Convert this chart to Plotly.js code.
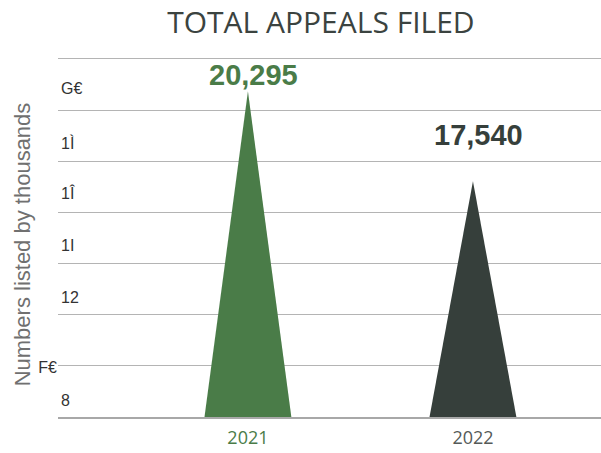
<!DOCTYPE html>
<html>
<head>
<meta charset="utf-8">
<script src="https://cdn.plot.ly/plotly-3.0.1.min.js"></script>
<style>
  body { margin: 0; background: #fff; }
  #grafica { width: 601px; height: 453px; }
</style>
</head>
<body>
<div id="grafica"></div>
<script>
  var years = ['2021', '2022'];
  var appeals = [20295, 17540];
  var valueLabels = ['20,295', '17,540'];
  var colors = ['#4a7c48', '#363f3b'];

  // axis scale (thousands), gridlines every step
  var yMin = 10300, yStep = 1570, yLines = 7;
  var yMax = yMin + yStep * yLines;

  // the odd tick labels of the original, with where they sit
  var tickText = ['G€', '1Ì', '1Î', '1I', '12', '8'];
  var tickVals = [20400, 18712, 17177, 15580, 13984, 10822];
  var outsideText = ['F€'];
  var outsideVals = [11835];

  var halfWidth = 0.193;
  var labelShift = [16, 46];

  var data = [];
  var annotations = [];
  for (var i = 0; i < years.length; i++) {
    data.push({
      x: [i - halfWidth, i, i + halfWidth, i - halfWidth],
      y: [yMin, appeals[i], yMin, yMin],
      type: 'scatter',
      mode: 'lines',
      fill: 'toself',
      fillcolor: colors[i],
      line: { width: 0, color: colors[i] },
      hoverinfo: 'skip',
      showlegend: false
    });
    annotations.push({
      x: i, y: appeals[i], xref: 'x', yref: 'y',
      text: '<b>' + valueLabels[i] + '</b>',
      showarrow: false, yanchor: 'middle', yshift: labelShift[i], xshift: 6,
      font: { family: 'Liberation Sans, Arial', size: 29, color: colors[i] }
    });
  }

  annotations.push({
    text: 'Numbers listed by thousands',
    xref: 'paper', yref: 'paper', x: -0.066, y: 0.48,
    xanchor: 'center', yanchor: 'middle',
    textangle: -90, showarrow: false,
    font: { family: 'Liberation Sans, Arial', size: 22, color: '#707070' }
  });

  var gridVals = [];
  for (var k = 0; k <= yLines; k++) gridVals.push(yMin + k * yStep);

  var layout = {
    width: 601, height: 453,
    margin: { l: 58, r: 0, t: 57, b: 36 },
    paper_bgcolor: '#fff', plot_bgcolor: '#fff',
    title: {
      text: 'TOTAL APPEALS FILED',
      x: 0.534, xanchor: 'center', y: 0.951, yanchor: 'middle', yref: 'container',
      font: { family: 'Open Sans', size: 30, color: '#3b4340' }
    },
    xaxis: {
      range: [-0.844, 1.569],
      tickvals: [0, 1],
      ticktext: years.map(function (y, i) {
        return '<span style="color:' + (i === 0 ? colors[0] : '#555a58') + '">' + y + '</span>';
      }),
      showgrid: false, zeroline: false,
      showline: true, linecolor: '#a8a8a8', linewidth: 1.5,
      ticks: '', ticklabelstandoff: 4,
      tickfont: { family: 'Open Sans', size: 18 }
    },
    yaxis: {
      range: [yMin, yMax + 60],
      tickvals: gridVals,
      showticklabels: false,
      showgrid: true, gridcolor: '#b4b4b4', gridwidth: 1,
      zeroline: false, ticks: ''
    },
    yaxis2: {
      range: [yMin, yMax + 60], overlaying: 'y', side: 'left',
      tickvals: tickVals, ticktext: tickText,
      ticklabelposition: 'inside',
      showgrid: false, zeroline: false, ticks: '',
      tickfont: { family: 'Liberation Sans, Arial', size: 16, color: '#333' }
    },
    yaxis3: {
      range: [yMin, yMax + 60], overlaying: 'y', side: 'left',
      tickvals: outsideVals, ticktext: outsideText,
      showgrid: false, zeroline: false, ticks: '',
      tickfont: { family: 'Liberation Sans, Arial', size: 16, color: '#333' }
    },
    annotations: annotations
  };

  // dummy traces so the label axes are drawn
  data.push({ x: [0], y: [yMin], yaxis: 'y2', mode: 'markers', marker: { opacity: 0 }, hoverinfo: 'skip', showlegend: false });
  data.push({ x: [0], y: [yMin], yaxis: 'y3', mode: 'markers', marker: { opacity: 0 }, hoverinfo: 'skip', showlegend: false });

  Plotly.newPlot('grafica', data, layout, { displayModeBar: false, staticPlot: true });
</script>
</body>
</html>
